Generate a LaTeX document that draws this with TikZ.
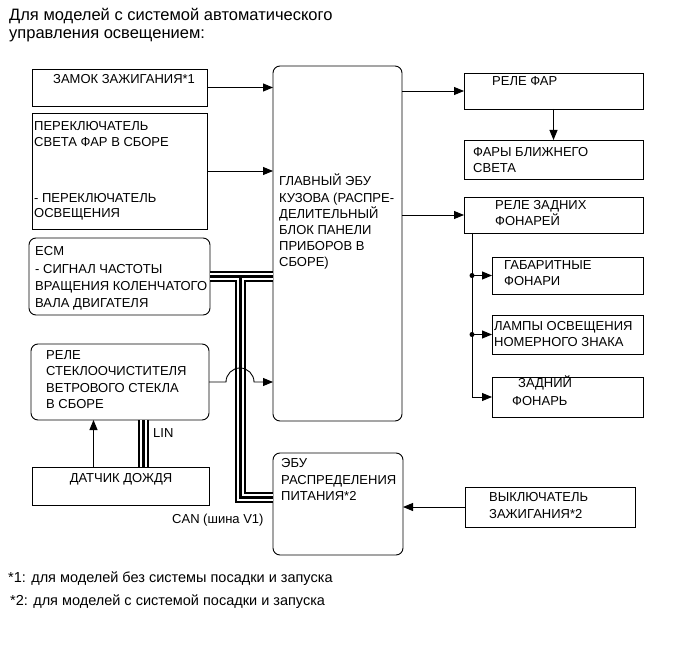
\documentclass[tikz,border=0pt]{standalone}
\usepackage{fontspec}
\setmainfont{Liberation Sans}
\usetikzlibrary{arrows.meta,calc}
\newcounter{tn}
\newcommand\T[4][txt]{\stepcounter{tn}\node[#1] (t\arabic{tn}) at (#2,#3) {#4};}
\begin{document}
\begin{tikzpicture}[x=1pt,y=-1pt,
  box/.style={draw, line width=0.9pt, inner sep=0pt, outer sep=0pt, anchor=north west},
  rbox/.style={box, rounded corners=7pt},
  arr/.style={line width=0.9pt, -{Triangle[length=10pt,width=8pt]}},
  ln/.style={line width=0.9pt},
  txt/.style={inner sep=0pt, anchor=base west, font=\fontsize{13}{16}\selectfont},
  ctxt/.style={txt, anchor=base},
  ttl/.style={txt, font=\fontsize{16.5}{18}\selectfont},
  note/.style={txt, font=\fontsize{14.5}{16}\selectfont},
  busA/.style={line width=11pt, black, line join=miter},
  busB/.style={line width=7pt, white, line join=miter},
  busC/.style={line width=3pt, black, line join=miter}]
\useasboundingbox (0,0) rectangle (691,660);
% boxes
\node[box, minimum width=175pt, minimum height=37pt] (ign1) at (32,69) {};
\node[box, minimum width=175pt, minimum height=116pt] (hsw) at (32,113) {};
\node[rbox, minimum width=181pt, minimum height=77pt] (ecm) at (29,238) {};
\node[rbox, minimum width=178pt, minimum height=76pt] (wip) at (31,344) {};
\node[box, minimum width=177pt, minimum height=38pt] (rain) at (32,467) {};
\node[rbox, minimum width=129pt, minimum height=355pt] (ecu) at (273,66) {};
\node[rbox, minimum width=130pt, minimum height=102pt] (epd) at (273,453) {};
\node[box, minimum width=170pt, minimum height=40pt] (ign2) at (465,487) {};
\node[box, minimum width=179pt, minimum height=36pt] (hrel) at (464,73) {};
\node[box, minimum width=179pt, minimum height=39pt] (hlo) at (464,140) {};
\node[box, minimum width=179pt, minimum height=36pt] (trel) at (464,197) {};
\node[box, minimum width=151pt, minimum height=37pt] (clr) at (492,257) {};
\node[box, minimum width=151pt, minimum height=39pt] (lic) at (492,315) {};
\node[box, minimum width=151pt, minimum height=40pt] (tail) at (492,377) {};
% bus coordinates
\coordinate (bj) at ($(ecm.east)+(30,0)$);
\coordinate (eb) at ($(epd.west)+(0,-7)$);
\coordinate (lb) at ($(rain.north)+(23,0)$);
\foreach \s in {busA,busB,busC}{
  \draw[\s] (ecm.east) -- (ecm.east -| ecu.west) (bj) -- (bj |- eb) -- (eb);
  \draw[\s] (lb) -- (lb |- wip.south);
}
% arrows
\draw[arr] (ign1.east) -- (ign1.east -| ecu.west);
\draw[arr] (hsw.east) -- (hsw.east -| ecu.west);
\draw[arr] (hrel.west -| ecu.east) -- (hrel.west);
\draw[arr] (hrel.south) -- (hlo.north);
\draw[arr] (trel.west -| ecu.east) -- (trel.west);
\coordinate (tb) at ($(trel.south west)+(8,0)$);
\draw[arr] (tb) |- (tail.west);
\draw[arr] (tb |- clr.west) -- (clr.west);
\draw[arr] (tb |- lic.west) -- (lic.west);
\fill (tb |- clr.west) circle (2.5pt);
\fill (tb |- lic.west) circle (2.5pt);
\draw[arr] (ign2.west) -- (ign2.west -| epd.east);
\coordinate (ra) at ($(rain.north)+(-27,0)$);
\draw[arr] (ra) -- (ra |- wip.south);
\coordinate (hop) at ($(wip.east -| bj)+(-14,0)$);
\draw[arr] (wip.east) -- (hop) arc[start angle=180, end angle=0, radius=14pt] -- (wip.east -| ecu.west);
% texts
\T[ttl]{9}{21}{Для моделей с системой автоматического}
\T[ttl]{9}{39}{управления освещением:}
\T{53}{84}{ЗАМОК ЗАЖИГАНИЯ*1}
\T{34}{131}{ПЕРЕКЛЮЧАТЕЛЬ}
\T{34}{147}{СВЕТА ФАР В СБОРЕ}
\T{34}{203}{- ПЕРЕКЛЮЧАТЕЛЬ}
\T{34}{218}{ОСВЕЩЕНИЯ}
\T{35}{256}{ECM}
\T{35}{274}{- СИГНАЛ ЧАСТОТЫ}
\T{35}{291}{ВРАЩЕНИЯ КОЛЕНЧАТОГО}
\T{35}{308}{ВАЛА ДВИГАТЕЛЯ}
\T{46}{359.5}{РЕЛЕ}
\T{46}{376}{СТЕКЛООЧИСТИТЕЛЯ}
\T{46}{392.5}{ВЕТРОВОГО СТЕКЛА}
\T{46}{408.5}{В СБОРЕ}
\T{153}{437}{LIN}
\T[ctxt]{121}{482}{ДАТЧИК ДОЖДЯ}
\T{279}{186}{ГЛАВНЫЙ ЭБУ}
\T{279}{202.2}{КУЗОВА (РАСПРЕ-}
\T{279}{218.4}{ДЕЛИТЕЛЬНЫЙ}
\T{279}{234.6}{БЛОК ПАНЕЛИ}
\T{279}{250.8}{ПРИБОРОВ В}
\T{279}{267}{СБОРЕ)}
\T{492}{86}{РЕЛЕ ФАР}
\T{473}{157}{ФАРЫ БЛИЖНЕГО}
\T{473}{173}{СВЕТА}
\T{495}{210}{РЕЛЕ ЗАДНИХ}
\T{495}{226}{ФОНАРЕЙ}
\T{504}{270}{ГАБАРИТНЫЕ}
\T{504}{286}{ФОНАРИ}
\T{494}{330.5}{ЛАМПЫ ОСВЕЩЕНИЯ}
\T{494}{347}{НОМЕРНОГО ЗНАКА}
\T{518}{388}{ЗАДНИЙ}
\T{512}{405}{ФОНАРЬ}
\T{489}{501.5}{ВЫКЛЮЧАТЕЛЬ}
\T{489}{518.5}{ЗАЖИГАНИЯ*2}
\T{281}{467.5}{ЭБУ}
\T{281}{484}{РАСПРЕДЕЛЕНИЯ}
\T{281}{500}{ПИТАНИЯ*2}
\T{172}{523}{CAN (шина V1)}
\T[note]{8}{582}{*1: для моделей без системы посадки и запуска}
\T[note]{10}{605}{*2: для моделей с системой посадки и запуска}
\end{tikzpicture}
\end{document}
